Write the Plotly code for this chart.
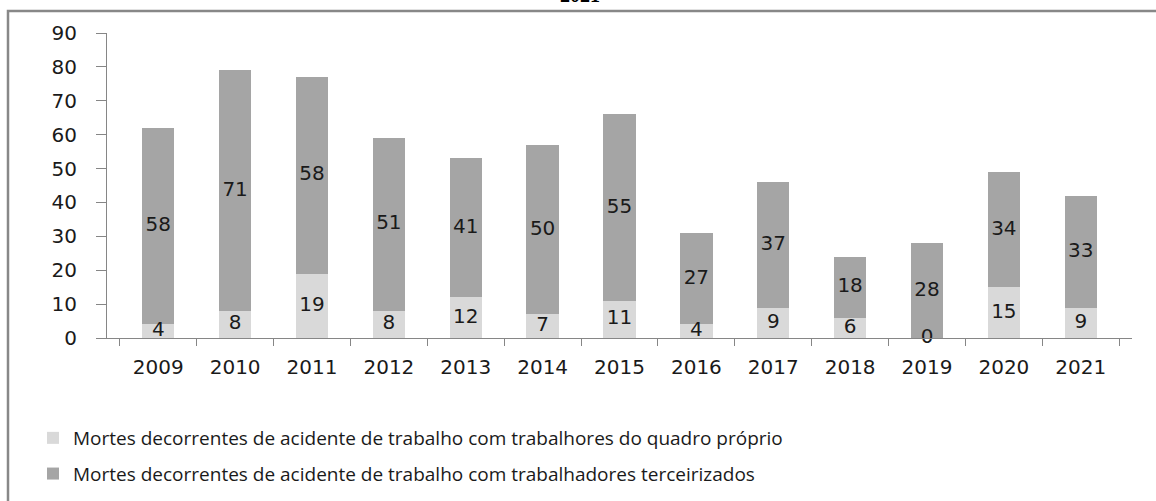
import plotly.graph_objects as go

years = ["2009", "2010", "2011", "2012", "2013", "2014", "2015", "2016", "2017", "2018", "2019", "2020", "2021"]
proprio = [4, 8, 19, 8, 12, 7, 11, 4, 9, 6, 0, 15, 9]
terceirizados = [58, 71, 58, 51, 41, 50, 55, 27, 37, 18, 28, 34, 33]
name_proprio = "Mortes decorrentes de acidente de trabalho com trabalhores do quadro próprio"
name_terc = "Mortes decorrentes de acidente de trabalho com trabalhadores terceirizados"
title_text = "2021"

LIGHT = "#d9d9d9"
DARK = "#a5a5a5"
AXIS = "#868686"
TXT = "#1a1a1a"
NUMFONT = dict(family="DejaVu Sans", size=20, color=TXT)

W, H = 1156, 501
L, R, T, B = 107, 24, 33, 163
pw, ph = W - L - R, H - T - B

def px_x(p):
    return (p - L) / pw

def px_y(p):
    return (H - B - p) / ph

fig = go.Figure()
fig.add_trace(go.Bar(x=years, y=proprio, name=name_proprio, marker=dict(color=LIGHT, line=dict(width=0)),
                     legendgroup="a", hoverinfo="skip"))
fig.add_trace(go.Bar(x=years, y=terceirizados, name=name_terc, marker=dict(color=DARK, line=dict(width=0)),
                     legendgroup="b", hoverinfo="skip"))

# data labels centred in each segment
fig.add_trace(go.Scatter(x=years, y=[v / 2 for v in proprio], text=[str(v) for v in proprio],
                         mode="text", textfont=NUMFONT, showlegend=False, hoverinfo="skip", cliponaxis=False))
fig.add_trace(go.Scatter(x=years, y=[p + t / 2 for p, t in zip(proprio, terceirizados)],
                         text=[str(v) for v in terceirizados], mode="text", textfont=NUMFONT,
                         showlegend=False, hoverinfo="skip", cliponaxis=False))

fig.update_layout(
    width=W, height=H,
    margin=dict(l=L, r=R, t=T, b=B, autoexpand=False),
    paper_bgcolor="white", plot_bgcolor="white",
    barmode="stack", bargap=0.58,
    showlegend=True,
    legend=dict(x=px_x(33), y=px_y(419), xanchor="left", yanchor="top",
                orientation="v", traceorder="grouped", tracegroupgap=8,
                font=dict(family="Open Sans", size=19, color=TXT),
                bgcolor="rgba(0,0,0,0)", borderwidth=0),
    xaxis=dict(type="category", showline=True, linecolor=AXIS, linewidth=1,
               ticks="outside", tickson="boundaries", ticklen=7, tickcolor=AXIS,
               tickfont=NUMFONT, ticklabelstandoff=11, showgrid=False, zeroline=False),
    yaxis=dict(range=[0, 90], dtick=10, showline=True, linecolor=AXIS, linewidth=1,
               ticks="outside", ticklen=10, tickcolor=AXIS, tickfont=NUMFONT,
               ticklabelstandoff=15, showgrid=False, zeroline=False),
    shapes=[dict(type="rect", xref="paper", yref="paper",
                 x0=px_x(8), x1=px_x(1170), y0=px_y(520), y1=px_y(11),
                 line=dict(color="#888888", width=2.5), fillcolor="rgba(0,0,0,0)", layer="above")],
    annotations=[dict(text="<b>" + title_text + "</b>", xref="paper", yref="paper",
                      x=px_x(580), y=px_y(8), xanchor="center", yanchor="bottom", showarrow=False,
                      font=dict(family="Liberation Serif", size=20, color="black"))],
)

fig.write_html("out.html", config={"displayModeBar": False, "staticPlot": True},
               post_script="document.body.style.margin='0';document.body.style.overflow='hidden';")
